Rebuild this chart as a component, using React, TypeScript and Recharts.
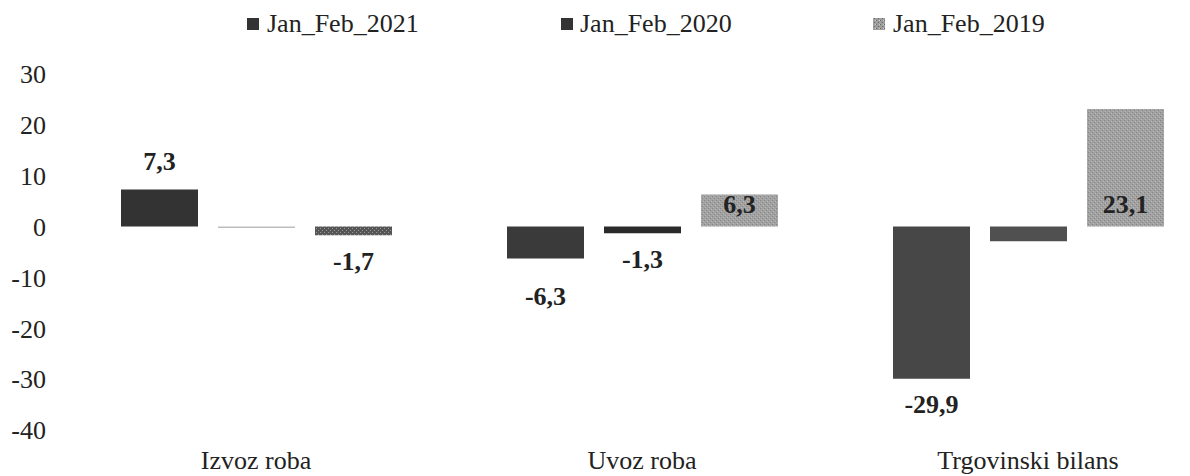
import React from "react";
import { BarChart, Bar, XAxis, YAxis, LabelList, Cell } from "recharts";

const categories = ["Izvoz roba", "Uvoz roba", "Trgovinski bilans"];
const seriesNames = ["Jan_Feb_2021", "Jan_Feb_2020", "Jan_Feb_2019"];
const values2021 = [7.3, -6.3, -29.9];
const values2020 = [-0.3, -1.3, -2.9];
const values2019 = [-1.7, 6.3, 23.1];
const labels2021 = ["7,3", "-6,3", "-29,9"];
const labels2020 = ["", "-1,3", ""];
const labels2019 = ["-1,7", "6,3", "23,1"];
const yTicks = [-40, -30, -20, -10, 0, 10, 20, 30];

const data = categories.map((name, i) => ({
  name,
  y2021: values2021[i],
  y2020: values2020[i],
  y2019: values2019[i],
}));

const FONT = "Liberation Serif, Times New Roman, serif";

const makeLabel = (values: number[], labels: string[], insidePositive: boolean) => (props: any) => {
  const { x, y, width, height, value } = props;
  let idx = typeof props.index === "number" ? props.index : values.indexOf(value);
  if (idx < 0) idx = values.indexOf(value);
  const text = labels[idx];
  if (!text) return null;
  const top = Math.min(y, y + height);
  const bottom = Math.max(y, y + height);
  const cx = x + width / 2;
  let cy: number;
  if (values[idx] >= 0) {
    cy = insidePositive ? bottom - 22 : top - 28;
  } else {
    cy = bottom + (idx === 1 && values === values2021 ? 38 : 26);
  }
  return (
    <text
      x={cx}
      y={cy}
      textAnchor="middle"
      dominantBaseline="central"
      fontFamily={FONT}
      fontWeight="bold"
      fontSize={26}
      fill="#222"
    >
      {text}
    </text>
  );
};

const colors2020 = ["#bdbdbd", "#2a2a2a", "#505050"];
const colors2021 = ["#333333", "#3a3a3a", "#474747"];

export default function App() {
  return (
    <div
      style={{
        position: "absolute",
        left: 0,
        top: 0,
        width: 1190,
        height: 476,
        overflow: "hidden",
        background: "#fff",
        fontFamily: FONT,
      }}
    >
      <svg
        width={1190}
        height={44}
        style={{ position: "absolute", left: 0, top: 0 }}
      >
        <defs>
          <pattern id="legendTex" width="4" height="4" patternUnits="userSpaceOnUse">
            <rect width="4" height="4" fill="#9e9e9e" />
            <rect x="0" y="0" width="1" height="1" fill="#666" />
            <rect x="2" y="2" width="1" height="1" fill="#666" />
            <rect x="3" y="0" width="1" height="1" fill="#ccc" />
          </pattern>
        </defs>
        <rect x={247} y={18} width={12} height={12} fill="#333" />
        <text x={267} y={32} fontFamily={FONT} fontSize={26} fill="#222">
          {seriesNames[0]}
        </text>
        <rect x={561} y={18} width={12} height={12} fill="#333" />
        <text x={580} y={32} fontFamily={FONT} fontSize={26} fill="#222">
          {seriesNames[1]}
        </text>
        <rect x={873} y={18} width={12} height={12} fill="url(#legendTex)" />
        <text x={893} y={32} fontFamily={FONT} fontSize={26} fill="#222">
          {seriesNames[2]}
        </text>
      </svg>
      <BarChart
        width={1240}
        height={476}
        data={data}
        margin={{ top: 74, right: 19, left: 0, bottom: 0 }}
        barSize={77}
        barGap={20}
      >
        <defs>
          <pattern id="tex2019" width="4" height="4" patternUnits="userSpaceOnUse">
            <rect width="4" height="4" fill="#a2a2a2" />
            <rect x="0" y="0" width="1" height="1" fill="#858585" />
            <rect x="2" y="2" width="1" height="1" fill="#858585" />
            <rect x="3" y="1" width="1" height="1" fill="#b4b4b4" />
            <rect x="1" y="3" width="1" height="1" fill="#b4b4b4" />
          </pattern>
          <pattern id="tex2019dark" width="4" height="4" patternUnits="userSpaceOnUse">
            <rect width="4" height="4" fill="#555" />
            <rect x="0" y="0" width="1" height="1" fill="#999" />
            <rect x="2" y="2" width="1" height="1" fill="#999" />
          </pattern>
        </defs>
        <XAxis
          dataKey="name"
          axisLine={false}
          tickLine={false}
          tickMargin={15}
          height={46}
          interval={0}
          tick={{ fontSize: 26, fill: "#222", fontFamily: FONT }}
        />
        <YAxis
          width={63}
          domain={[-40, 30]}
          ticks={yTicks}
          interval={0}
          axisLine={false}
          tickLine={false}
          tickMargin={11}
          tick={{ fontSize: 26, fill: "#222", fontFamily: FONT }}
        />
        <Bar dataKey="y2021" isAnimationActive={false}>
          {data.map((d, i) => (
            <Cell key={d.name} fill={colors2021[i]} />
          ))}
          <LabelList dataKey="y2021" content={makeLabel(values2021, labels2021, false)} />
        </Bar>
        <Bar dataKey="y2020" isAnimationActive={false}>
          {data.map((d, i) => (
            <Cell key={d.name} fill={colors2020[i]} />
          ))}
          <LabelList dataKey="y2020" content={makeLabel(values2020, labels2020, false)} />
        </Bar>
        <Bar dataKey="y2019" isAnimationActive={false}>
          {data.map((d, i) => (
            <Cell key={d.name} fill={i === 0 ? "url(#tex2019dark)" : "url(#tex2019)"} />
          ))}
          <LabelList dataKey="y2019" content={makeLabel(values2019, labels2019, true)} />
        </Bar>
      </BarChart>
    </div>
  );
}
